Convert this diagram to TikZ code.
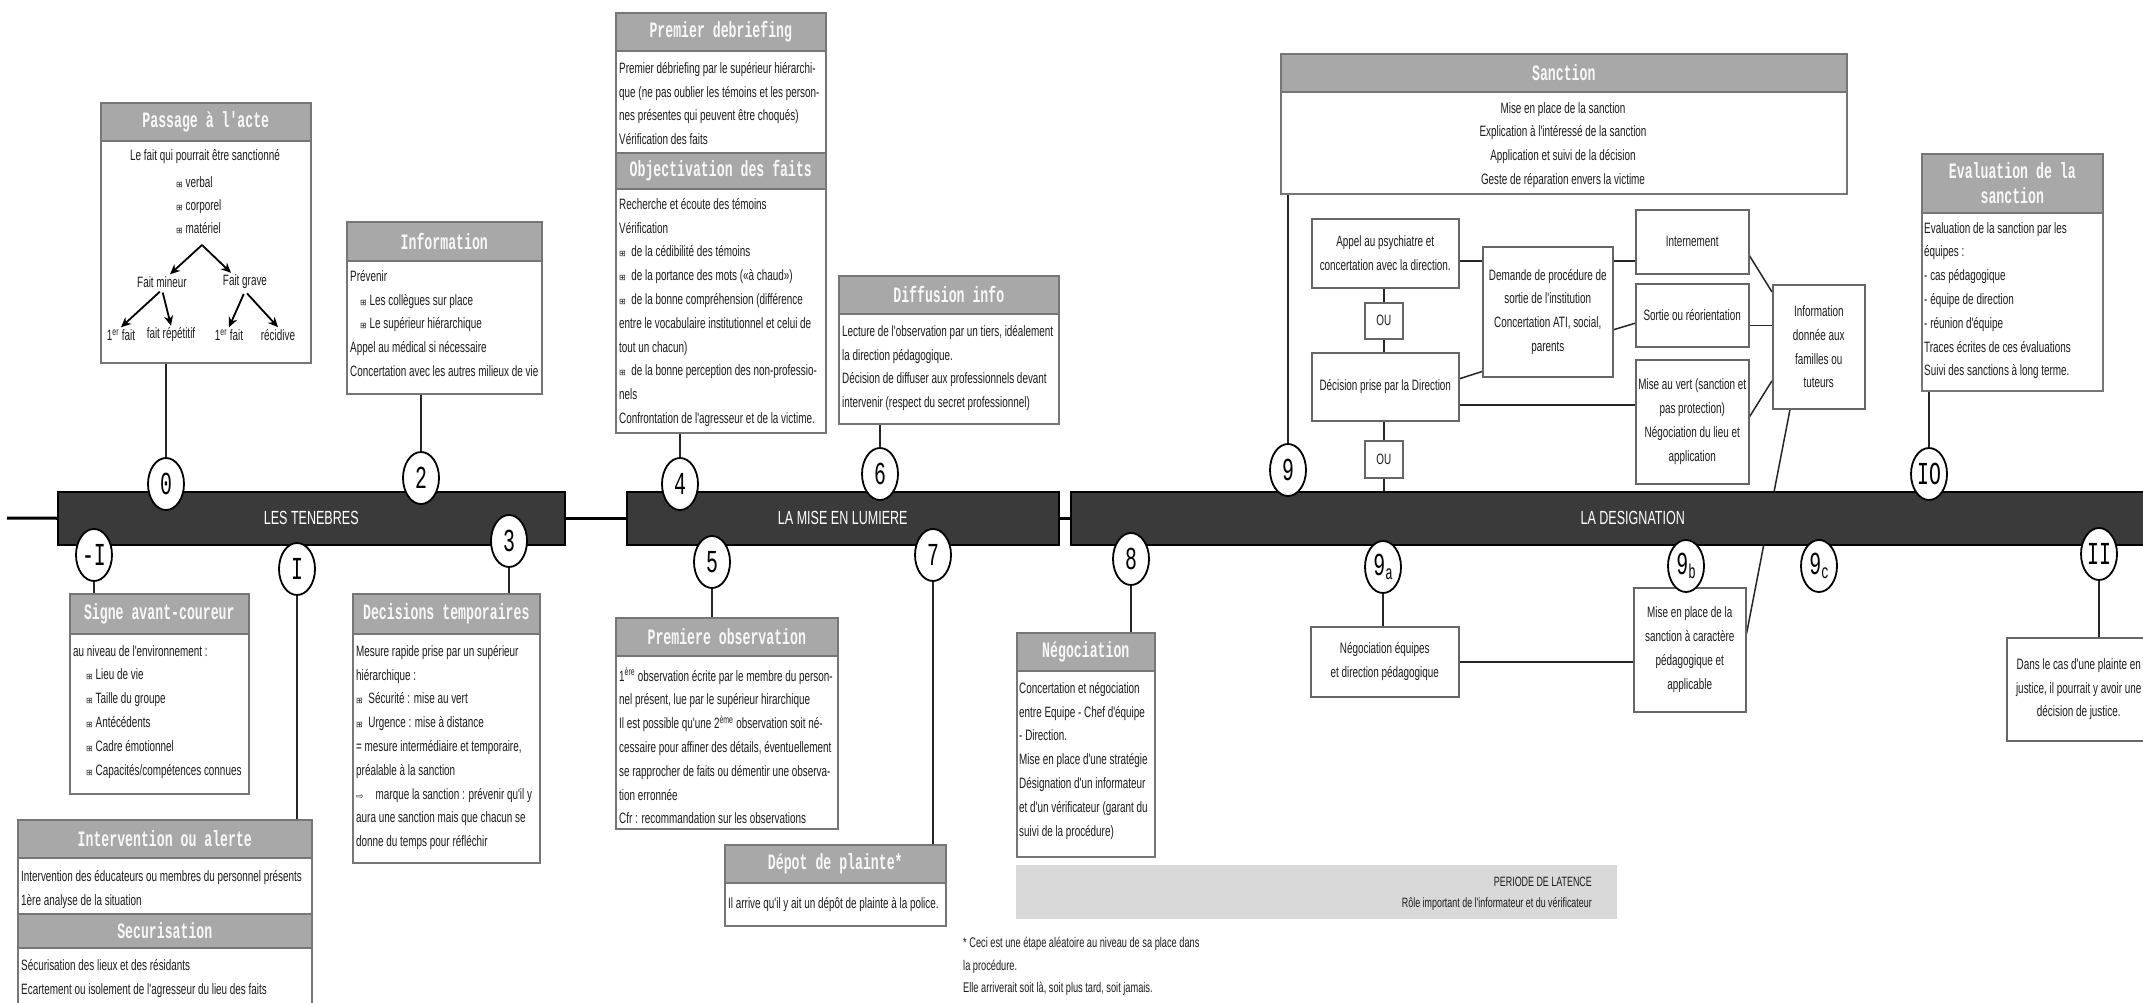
\documentclass[tikz,border=0pt]{standalone}
\usepackage{fontspec}
\setmainfont{Liberation Sans}
\newfontfamily\bodyfnt[FakeStretch=0.66]{Liberation Sans}
\newfontfamily\ttlfnt[FakeStretch=0.6]{Liberation Mono}
\newfontfamily\numfnt[FakeStretch=0.62]{Liberation Mono}
\newfontfamily\symfnt{DejaVu Sans}
\usetikzlibrary{shapes.geometric,arrows.meta,calc}
\definecolor{boxgray}{HTML}{767676}
\definecolor{flowgray}{HTML}{666666}
\definecolor{bandgray}{HTML}{A8A8A8}
\definecolor{ttlwhite}{HTML}{F8F8F8}
\definecolor{txtcol}{HTML}{1C1C1C}
\definecolor{barfill}{HTML}{3A3A3A}
\definecolor{latfill}{HTML}{D9D9D9}
\newcommand{\bx}{{\symfnt\fontsize{8}{8}\selectfont ⊞}}
\newcommand{\arr}{{\symfnt\fontsize{9}{9}\selectfont ⇨}}
\pgfdeclarelayer{back}
\pgfdeclarelayer{lines}
\pgfsetlayers{back,lines,main}
\begin{document}
\begin{tikzpicture}[x=1pt,y=-1pt,
  box/.style={draw=boxgray, line width=1.6pt, fill=white, inner sep=0pt, anchor=north west},
  band/.style={draw=boxgray, line width=1.6pt, fill=bandgray, inner sep=0pt, anchor=north west, align=center, text=ttlwhite, font=\ttlfnt\bfseries\fontsize{22}{25}\selectfont},
  flow/.style={draw=flowgray, line width=1.5pt, fill=white, inner sep=1pt, anchor=north west, align=center, text=txtcol, font=\bodyfnt\fontsize{15}{23.8}\selectfont},
  txt/.style={inner sep=0pt, anchor=north west, align=left, text=txtcol, font=\bodyfnt\fontsize{15}{23.8}\selectfont},
  lbl/.style={inner sep=2pt, text=txtcol, font=\bodyfnt\fontsize{15}{17}\selectfont},
  num/.style={ellipse, draw=black, line width=1.8pt, fill=white, minimum width=36pt, minimum height=52pt, inner sep=0pt, font=\numfnt\fontsize{32}{32}\selectfont},
  bar/.style={draw=black, line width=1.5pt, fill=barfill, inner sep=0pt, anchor=north west, minimum height=53pt, text=white, font=\bodyfnt\fontsize{19}{20}\selectfont},
  tl/.style={line width=3pt, black},
  conn/.style={line width=1.5pt, black!85},
  tree/.style={line width=1.8pt, black, -{Stealth[length=10pt,width=9pt]}}
]
\useasboundingbox (0,0) rectangle (2143,1003);
\begin{pgfonlayer}{back}
\fill[white] (0,0) rectangle (2143,1003);
\end{pgfonlayer}

% ---------- Passage a l'acte
\node[box, minimum width=210pt, minimum height=260pt] (pa) at (100,102) {};
\node[band, minimum width=210pt, minimum height=38pt] (pa-h) at (100,102) {Passage à l'acte};
\node[lbl] (pa-t) at (205,157) {Le fait qui pourrait être sanctionné};
\node[txt, font=\bodyfnt\fontsize{15}{23}\selectfont] (pa-l) at (176,176) {\bx\ verbal\\\bx\ corporel\\\bx\ matériel};
\coordinate (fork) at (202,245);
\node[lbl] (fm) at (162,282) {Fait mineur};
\node[lbl] (fg) at (245,282) {Fait grave};
\node[lbl] (f1) at (121,335) {1\textsuperscript{er} fait};
\node[lbl] (fr) at (171,335) {fait répétitif};
\node[lbl] (f3) at (229,335) {1\textsuperscript{er} fait};
\node[lbl] (rc) at (278,335) {récidive};
\draw[tree] (fork) -- ($(fm.north)+(8,0)$);
\draw[tree] (fork) -- ($(fg.north)+(-14,0)$);
\draw[tree, shorten <=3pt] (fm.south) -- (f1.north);
\draw[tree, shorten <=3pt] (fm.south) -- (fr.north);
\draw[tree, shorten <=3pt] (fg.south) -- (f3.north);
\draw[tree, shorten <=3pt] (fg.south) -- (rc.north);

% ---------- Information
\node[box, minimum width=195pt, minimum height=172pt] (inf) at (346,221) {};
\node[band, minimum width=195pt, minimum height=39pt] (inf-h) at (346,221) {Information};
\node[txt] (inf-t) at (350,270) {Prévenir\\\hspace*{10pt}\bx\ Les collègues sur place\\\hspace*{10pt}\bx\ Le supérieur hiérarchique\\Appel au médical si nécessaire\\Concertation avec les autres milieux de vie};

% ---------- Premier debriefing / Objectivation
\node[box, minimum width=210pt, minimum height=420pt] (deb) at (615,12) {};
\node[band, minimum width=210pt, minimum height=38pt] (deb-h) at (615,12) {Premier debriefing};
\node[txt] (deb-t) at (619,62) {Premier débriefing par le supérieur hiérarchi-\\que (ne pas oublier les témoins et les person-\\nes présentes qui peuvent être choqués)\\Vérification des faits};
\node[band, minimum width=210pt, minimum height=36pt] (obj-h) at (615,152) {Objectivation des faits};
\node[txt] (obj-t) at (619,198) {Recherche et écoute des témoins\\Vérification\\\bx\ \ de la cédibilité des témoins\\\bx\ \ de la portance des mots («à chaud»)\\\bx\ \ de la bonne compréhension (différence\\entre le vocabulaire institutionnel et celui de\\tout un chacun)\\\bx\ \ de la bonne perception des non-professio-\\nels\\Confrontation de l'agresseur et de la victime.};

% ---------- Diffusion info
\node[box, minimum width=220pt, minimum height=148pt] (dif) at (838,275) {};
\node[band, minimum width=220pt, minimum height=38pt] (dif-h) at (838,275) {Diffusion info};
\node[txt] (dif-t) at (842,325) {Lecture de l'observation par un tiers, idéalement\\la direction pédagogique.\\Décision de diffuser aux professionnels devant\\intervenir (respect du secret professionnel)};

% ---------- Signe avant-coureur
\node[box, minimum width=179pt, minimum height=200pt] (sig) at (69,593) {};
\node[band, minimum width=179pt, minimum height=40pt] (sig-h) at (69,593) {Signe avant-coureur};
\node[txt] (sig-t) at (73,645) {au niveau de l'environnement :\\\hspace*{13pt}\bx\ Lieu de vie\\\hspace*{13pt}\bx\ Taille du groupe\\\hspace*{13pt}\bx\ Antécédents\\\hspace*{13pt}\bx\ Cadre émotionnel\\\hspace*{13pt}\bx\ Capacités/compétences connues};

% ---------- Intervention / Securisation
\node[box, minimum width=294pt, minimum height=200pt] (itv) at (17,819) {};
\node[band, minimum width=294pt, minimum height=38pt] (itv-h) at (17,819) {Intervention ou alerte};
\node[txt] (itv-t) at (21,870) {Intervention des éducateurs ou membres du personnel présents\\1ère analyse de la situation};
\node[band, minimum width=294pt, minimum height=34pt] (sec-h) at (17,913) {Securisation};
\node[txt] (sec-t) at (21,959) {Sécurisation des lieux et des résidants\\Ecartement ou isolement de l'agresseur du lieu des faits};

% ---------- Decisions temporaires
\node[box, minimum width=187pt, minimum height=269pt] (dec) at (352,593) {};
\node[band, minimum width=187pt, minimum height=40pt] (dec-h) at (352,593) {Decisions temporaires};
\node[txt] (dec-t) at (356,645) {Mesure rapide prise par un supérieur\\hiérarchique :\\\bx\ \ Sécurité : mise au vert\\\bx\ \ Urgence : mise à distance\\= mesure intermédiaire et temporaire,\\préalable à la sanction\\\arr\hspace{12pt}marque la sanction : prévenir qu'il y\\aura une sanction mais que chacun se\\donne du temps pour réfléchir};

% ---------- Premiere observation
\node[box, minimum width=222pt, minimum height=211pt] (pob) at (615,617) {};
\node[band, minimum width=222pt, minimum height=38pt] (pob-h) at (615,617) {Premiere observation};
\node[txt] (pob-t) at (619,668) {1\textsuperscript{ère} observation écrite par le membre du person-\\nel présent, lue par le supérieur hirarchique\\Il est possible qu'une 2\textsuperscript{ème} observation soit né-\\cessaire pour affiner des détails, éventuellement\\se rapprocher de faits ou démentir une observa-\\tion erronnée\\Cfr : recommandation sur les observations};

% ---------- Depot de plainte
\node[box, minimum width=221pt, minimum height=81pt] (dep) at (724,844) {};
\node[band, minimum width=221pt, minimum height=38pt] (dep-h) at (724,844) {Dépot de plainte*};
\node[txt] (dep-t) at (728,897) {Il arrive qu'il y ait un dépôt de plainte à la police.};

% ---------- Negociation
\node[box, minimum width=138pt, minimum height=224pt] (neg) at (1016,632) {};
\node[band, minimum width=138pt, minimum height=38pt] (neg-h) at (1016,632) {Négociation};
\node[txt] (neg-t) at (1019,682) {Concertation et négociation\\entre Equipe - Chef d'équipe\\- Direction.\\Mise en place d'une stratégie\\Désignation d'un informateur\\et d'un vérificateur (garant du\\suivi de la procédure)};

% ---------- Periode de latence
\node[fill=latfill, inner sep=0pt, anchor=north west, minimum width=601pt, minimum height=54pt] (lat) at (1016,865) {};
\node[txt, anchor=north east, align=right, font=\bodyfnt\fontsize{13.5}{21}\selectfont] (lat-t) at (1592,877) {PERIODE DE LATENCE\\Rôle important de l'informateur et du vérificateur};
\node[txt, font=\bodyfnt\fontsize{14}{22.5}\selectfont] (foot) at (963,937) {* Ceci est une étape aléatoire au niveau de sa place dans\\la procédure.\\Elle arriverait soit là, soit plus tard, soit jamais.};

% ---------- Sanction
\node[box, minimum width=566pt, minimum height=140pt] (san) at (1280,53) {};
\node[band, minimum width=566pt, minimum height=38pt] (san-h) at (1280,53) {Sanction};
\node[txt, anchor=north, align=center] (san-t) at (1563,102) {Mise en place de la sanction\\Explication à l'intéressé de la sanction\\Application et suivi de la décision\\Geste de réparation envers la victime};

\node[flow, minimum width=147pt, minimum height=69pt] (app) at (1311,218) {Appel au psychiatre et\\concertation avec la direction.};
\node[flow, minimum width=38pt, minimum height=36pt] (ou1) at (1364,302) {OU};
\node[flow, minimum width=147pt, minimum height=68pt] (dcs) at (1311,352) {Décision prise par la Direction};
\node[flow, minimum width=38pt, minimum height=37pt] (ou2) at (1364,440) {OU};
\node[flow, minimum width=130pt, minimum height=130pt] (dem) at (1482,246) {Demande de procédure de\\sortie de l'institution\\Concertation ATI, social,\\parents};
\node[flow, minimum width=113pt, minimum height=64pt] (int) at (1635,209) {Internement};
\node[flow, minimum width=113pt, minimum height=63pt] (sor) at (1635,283) {Sortie ou réorientation};
\node[flow, minimum width=113pt, minimum height=124pt] (mav) at (1635,359) {Mise au vert (sanction et\\pas protection)\\Négociation du lieu et\\application};
\node[flow, minimum width=92pt, minimum height=124pt] (ifo) at (1772,284) {Information\\donnée aux\\familles ou\\tuteurs};

% ---------- Evaluation
\node[box, minimum width=181pt, minimum height=237pt] (eva) at (1921,153) {};
\node[band, minimum width=181pt, minimum height=59pt] (eva-h) at (1921,153) {Evaluation de la\\sanction};
\node[txt] (eva-t) at (1924,222) {Evaluation de la sanction par les\\équipes :\\- cas pédagogique\\- équipe de direction\\- réunion d'équipe\\Traces écrites de ces évaluations\\Suivi des sanctions à long terme.};

% ---------- lower designation boxes
\node[flow, minimum width=148pt, minimum height=70pt] (neq) at (1310,626) {Négociation équipes\\et direction pédagogique};
\node[flow, minimum width=112pt, minimum height=124pt] (b9) at (1633,587) {Mise en place de la\\sanction à caractère\\pédagogique et\\applicable};
\node[flow, minimum width=144pt, minimum height=103pt] (jus) at (2006,637) {Dans le cas d'une plainte en\\justice, il pourrait y avoir une\\décision de justice.};

% ---------- timeline bars
\node[bar, minimum width=507pt] (bar1) at (57,491) {LES TENEBRES};
\node[bar, minimum width=432pt] (bar2) at (626,491) {LA MISE EN LUMIERE};
\node[bar, minimum width=1124pt] (bar3) at (1070,491) {LA DESIGNATION};
\coordinate (lstart) at (7,518);

% ---------- numbered circles
\node[num] (cm1) at (94,555) {-I};
\node[num] (c0) at (166,484) {0};
\node[num] (c1) at (297,569) {I};
\node[num] (c2) at (421,478) {2};
\node[num] (c3) at (509,541) {3};
\node[num] (c4) at (680,484) {4};
\node[num] (c5) at (712,562) {5};
\node[num] (c6) at (880,474) {6};
\node[num] (c7) at (933,555) {7};
\node[num] (c8) at (1131,559) {8};
\node[num] (c9) at (1288,470) {9};
\node[num] (c9a) at (1383,567) {9\raisebox{-4pt}{\fontsize{20}{20}\selectfont a}};
\node[num] (c9b) at (1686,566) {9\raisebox{-4pt}{\fontsize{20}{20}\selectfont b}};
\node[num] (c9c) at (1819,566) {9\raisebox{-4pt}{\fontsize{20}{20}\selectfont c}};
\node[num] (c10) at (1929,474) {IO};
\node[num] (c11) at (2099,554) {II};

\begin{pgfonlayer}{lines}
\draw[tl] (lstart) -- (bar1.west);
\draw[tl] (bar1.east) -- (bar2.west);
\draw[tl] (bar2.east) -- (bar3.west);
\draw[conn] (pa.south -| c0) -- (c0.north);
\draw[conn] (inf.south -| c2) -- (c2.north);
\draw[conn] (deb.south -| c4) -- (c4.north);
\draw[conn] (dif.south -| c6) -- (c6.north);
\draw[conn] (san.south -| c9) -- (c9.north);
\draw[conn] (eva.south -| c10) -- (c10.north);
\draw[conn] (cm1.south) -- (cm1.south |- sig.north);
\draw[conn] (c1.south) -- (c1.south |- itv.north);
\draw[conn] (c3.south) -- (c3.south |- dec.north);
\draw[conn] (c5.south) -- (c5.south |- pob.north);
\draw[conn] (c7.south) -- (c7.south |- dep.north);
\draw[conn] (c8.south) -- (c8.south |- neg.north);
\draw[conn] (c9a.south) -- (c9a.south |- neq.north);
\draw[conn] (c11.south) -- (c11.south |- jus.north);
% flow connectors
\coordinate (ya) at (0,261);
\draw[conn] (app.east |- ya) -- (dem.west |- ya);
\draw[conn] (dem.east |- ya) -- (int.west |- ya);
\draw[conn] ($(dem.east)+(0,18)$) -- ($(sor.west)+(0,8)$);
\draw[conn] ($(dcs.east)+(0,-8)$) -- ($(dem.south west)+(0,-6)$);
\coordinate (dm) at ($(dcs.east)+(0,18)$);
\draw[conn] (dm) -- (dm -| mav.west);
\draw[conn] ($(int.east)+(0,14)$) -- ($(ifo.north west)+(0,8)$);
\coordinate (so) at ($(sor.east)+(0,10)$);
\draw[conn] (so) -- (so -| ifo.west);
\draw[conn] ($(mav.east)+(0,-5)$) -- ($(ifo.west)+(0,34)$);
\draw[conn] ($(ifo.south west)+(18,0)$) -- ($(b9.east)+(0,-16)$);
\draw[conn] (neq.east) -- (neq.east -| b9.west);
\draw[conn] (app.south -| ou1) -- (ou1.north);
\draw[conn] (ou1.south) -- (ou1.south |- dcs.north);
\draw[conn] (dcs.south -| ou2) -- (ou2.north);
\draw[conn] (ou2.south) -- (ou2.south |- bar3.north);
\end{pgfonlayer}
\end{tikzpicture}
\end{document}
